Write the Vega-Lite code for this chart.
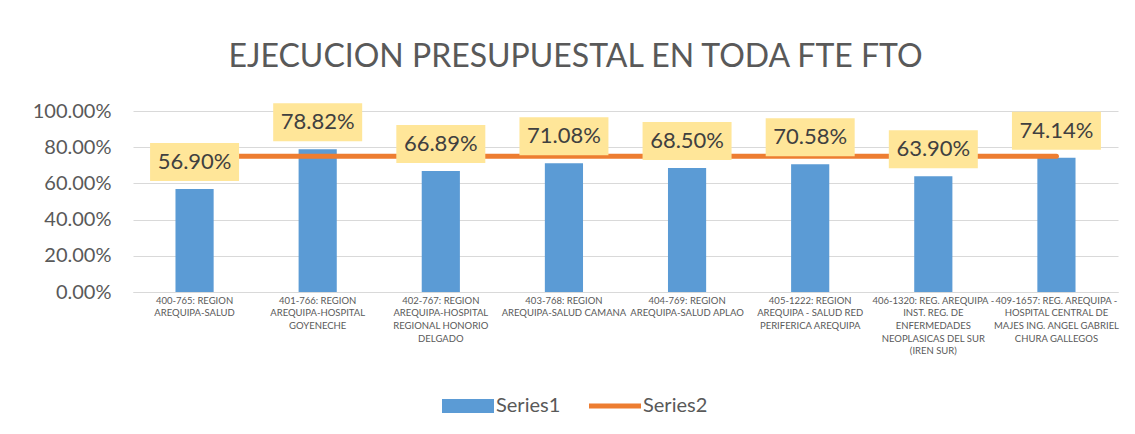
{
  "$schema": "https://vega.github.io/schema/vega-lite/v6.json",
  "width": 985,
  "height": 181,
  "padding": {"left": 32, "top": 41, "right": 18, "bottom": 10},
  "background": "white",
  "title": {
    "text": "EJECUCION PRESUPUESTAL EN TODA FTE FTO",
    "font": "Lato",
    "fontSize": 32,
    "fontWeight": "normal",
    "color": "#595959",
    "anchor": "middle",
    "frame": "bounds",
    "offset": 27
  },
  "data": {
    "values": [
      {"c": "400-765: REGION\nAREQUIPA-SALUD", "v": 0.569, "s2": 0.75},
      {"c": "401-766: REGION\nAREQUIPA-HOSPITAL\nGOYENECHE", "v": 0.7882, "s2": 0.75},
      {"c": "402-767: REGION\nAREQUIPA-HOSPITAL\nREGIONAL HONORIO\nDELGADO", "v": 0.6689, "s2": 0.75},
      {"c": "403-768: REGION\nAREQUIPA-SALUD CAMANA", "v": 0.7108, "s2": 0.75},
      {"c": "404-769: REGION\nAREQUIPA-SALUD APLAO", "v": 0.685, "s2": 0.75},
      {"c": "405-1222: REGION\nAREQUIPA - SALUD RED\nPERIFERICA AREQUIPA", "v": 0.7058, "s2": 0.75},
      {"c": "406-1320: REG. AREQUIPA -\nINST. REG. DE\nENFERMEDADES\nNEOPLASICAS DEL SUR\n(IREN SUR)", "v": 0.639, "s2": 0.75},
      {"c": "409-1657: REG. AREQUIPA -\nHOSPITAL CENTRAL DE\nMAJES ING. ANGEL GABRIEL\nCHURA GALLEGOS", "v": 0.7414, "s2": 0.75}
    ]
  },
  "encoding": {
    "x": {
      "field": "c",
      "type": "nominal",
      "sort": null,
      "scale": {"paddingInner": 0.69, "paddingOuter": 0.345},
      "axis": {
        "title": null,
        "labelAngle": 0,
        "labelExpr": "split(datum.label, '\\n')",
        "labelFont": "Lato",
        "labelFontSize": 9.5,
        "labelLineHeight": 12.7,
        "labelColor": "#595959",
        "labelPadding": 3,
        "labelBaseline": "top",
        "labelLimit": 200,
        "labelOverlap": false,
        "ticks": false,
        "domain": true,
        "domainColor": "#D9D9D9",
        "domainWidth": 1
      }
    },
    "y": {
      "field": "v",
      "type": "quantitative",
      "scale": {"domain": [0, 1], "nice": false},
      "axis": {
        "title": null,
        "tickCount": 5,
        "format": ".2%",
        "labelOverlap": false,
        "labelSeparation": 0,
        "labelBound": false,
        "grid": true
      }
    }
  },
  "layer": [
    {
      "mark": {"type": "bar", "color": "#5B9BD5"},
      "encoding": {
        "color": {
          "datum": "Series1",
          "type": "nominal",
          "scale": {"domain": ["Series1", "Series2"], "range": ["#5B9BD5", "#ED7D31"]},
          "legend": {
            "title": null,
            "orient": "none",
            "legendX": 309,
            "legendY": 269,
            "direction": "horizontal",
            "labelFont": "Lato",
            "labelFontSize": 20,
            "labelColor": "#595959",
            "labelOffset": 2,
            "columnPadding": 28,
            "symbolSize": 2704,
            "symbolStrokeWidth": 0,
            "encode": {
              "symbols": {
                "update": {
                  "shape": {"signal": "datum.value === 'Series1' ? 'M-1,-0.27L1,-0.27L1,0.27L-1,0.27Z' : 'M-1,-0.1L1,-0.1L1,0.1L-1,0.1Z'"},
                  "fill": {"signal": "datum.value === 'Series1' ? '#5B9BD5' : '#ED7D31'"},
                  "strokeWidth": {"value": 0},
                  "opacity": {"value": 1}
                }
              }
            }
          }
        }
      }
    },
    {
      "mark": {"type": "line", "strokeWidth": 5, "strokeCap": "round"},
      "encoding": {
        "y": {"field": "s2", "type": "quantitative"},
        "color": {"datum": "Series2", "type": "nominal"}
      }
    },
    {
      "mark": {
        "type": "point",
        "shape": "M-1,-0.427L1,-0.427L1,0.427L-1,0.427Z",
        "size": 7921,
        "filled": true,
        "fill": "#FFE699",
        "opacity": 1,
        "strokeWidth": 0,
        "yOffset": -27
      }
    },
    {
      "mark": {
        "type": "text",
        "font": "Lato",
        "fontSize": 22,
        "color": "#404040",
        "baseline": "middle",
        "align": "center",
        "yOffset": -27
      },
      "encoding": {
        "text": {"field": "v", "type": "quantitative", "format": ".2%"}
      }
    }
  ],
  "config": {
    "view": {"stroke": null},
    "axisY": {
      "labelFont": "Lato",
      "labelFontSize": 20,
      "labelColor": "#595959",
      "labelPadding": 22,
      "labelFlush": false,
      "ticks": false,
      "domain": false,
      "gridColor": "#D9D9D9",
      "gridWidth": 1
    }
  }
}
